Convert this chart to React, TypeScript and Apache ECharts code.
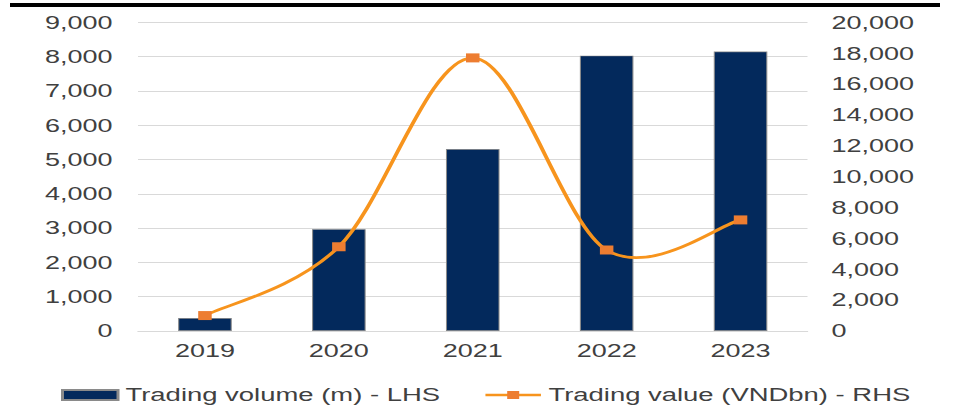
import React, { useEffect, useRef } from "react";
import * as echarts from "echarts";

const categories = ["2019", "2020", "2021", "2022", "2023"];
const tradingVolume = [380, 2970, 5310, 8030, 8150];
const tradingValue = [1000, 5460, 17700, 5250, 7200];
const volumeName = "Trading volume (m) - LHS";
const valueName = "Trading value (VNDbn) - RHS";

const SX = 1.5;
const FULL_W = 953;
const FULL_H = 412;
const W = FULL_W / SX;
const FONT = "'Liberation Sans', Arial, sans-serif";
const TEXT = "#404040";
const LINE_COLOR = "#f7941d";
const MARKER_COLOR = "#ed7d31";

export default function App() {
  const ref = useRef<HTMLDivElement>(null);
  useEffect(() => {
    if (!ref.current) return;
    const chart = echarts.init(ref.current, undefined, { renderer: "svg" });
    const fmt = (v: number) => v.toLocaleString("en-US");

    // Excel-like smoothed curve (Catmull-Rom style Bezier) through the series points,
    // computed from the chart's own scale via api.coord.
    const renderSmooth = (params: any, api: any) => {
      if (params.dataIndex !== 0) return { type: "group", children: [] };
      const pts = tradingValue.map((v, i) => api.coord([i, v]));
      const n = pts.length;
      let d = `M${pts[0][0]},${pts[0][1]}`;
      for (let i = 0; i < n - 1; i++) {
        const p0 = pts[Math.max(i - 1, 0)];
        const p1 = pts[i];
        const p2 = pts[i + 1];
        const p3 = pts[Math.min(i + 2, n - 1)];
        const c1x = p1[0] + (p2[0] - p0[0]) / 6;
        const c1y = p1[1] + (p2[1] - p0[1]) / 6;
        const c2x = p2[0] - (p3[0] - p1[0]) / 6;
        const c2y = p2[1] - (p3[1] - p1[1]) / 6;
        d += ` C${c1x},${c1y} ${c2x},${c2y} ${p2[0]},${p2[1]}`;
      }
      return {
        type: "path",
        shape: { pathData: d },
        style: { fill: "none", stroke: LINE_COLOR, lineWidth: 2.7 },
      };
    };

    chart.setOption({
      animation: false,
      backgroundColor: "#ffffff",
      textStyle: { fontFamily: FONT },
      grid: { left: 92, right: W - 808 / SX, top: 22.4, bottom: FULL_H - 331, containLabel: false },
      legend: {
        left: 61 / SX,
        top: 386,
        padding: 0,
        itemWidth: 37,
        itemHeight: 10,
        itemGap: 29,
        textStyle: { fontSize: 18.3, color: TEXT, fontFamily: FONT },
        data: [
          { name: volumeName, icon: "rect" },
          { name: valueName, lineStyle: { color: LINE_COLOR, width: 2.7, opacity: 1 } },
        ],
      },
      xAxis: {
        type: "category",
        data: categories,
        axisTick: { show: false },
        axisLine: { lineStyle: { color: "#d9d9d9", width: 1 } },
        axisLabel: { fontSize: 18, color: TEXT, margin: 11, fontFamily: FONT },
      },
      yAxis: [
        {
          type: "value",
          min: 0,
          max: 9000,
          interval: 1000,
          axisLine: { show: false },
          axisTick: { show: false },
          splitLine: { lineStyle: { color: "#d9d9d9", width: 1 } },
          axisLabel: { fontSize: 18, color: TEXT, margin: 17, formatter: fmt, fontFamily: FONT },
        },
        {
          type: "value",
          min: 0,
          max: 20000,
          interval: 2000,
          axisLine: { show: false },
          axisTick: { show: false },
          splitLine: { show: false },
          axisLabel: { fontSize: 18, color: TEXT, margin: 16, formatter: fmt, fontFamily: FONT },
        },
      ],
      series: [
        {
          name: volumeName,
          type: "bar",
          data: tradingVolume,
          barWidth: "40%",
          yAxisIndex: 0,
          itemStyle: { color: "#03295c", borderColor: "#8a8a8a", borderWidth: 0.7 },
        },
        {
          name: "smoothCurve",
          type: "custom",
          yAxisIndex: 1,
          data: tradingValue.map((v, i) => [i, v]),
          encode: { x: 0, y: 1 },
          renderItem: renderSmooth,
          silent: true,
          z: 4,
        },
        {
          name: valueName,
          type: "line",
          data: tradingValue,
          yAxisIndex: 1,
          symbol: "rect",
          symbolSize: 9,
          lineStyle: { color: LINE_COLOR, width: 2.7, opacity: 0 },
          itemStyle: { color: MARKER_COLOR },
          z: 5,
        },
      ],
      graphic: [
        { type: "rect", shape: { x: 10 / SX, y: 3, width: (940 - 10) / SX, height: 4 }, style: { fill: "#000" } },
      ],
    });
    return () => chart.dispose();
  }, []);
  return (
    <div style={{ position: "absolute", left: 0, top: 0, width: FULL_W, height: FULL_H, overflow: "hidden", background: "#fff" }}>
      <div
        ref={ref}
        style={{ width: W, height: FULL_H, transform: `scaleX(${SX})`, transformOrigin: "0 0" }}
      />
    </div>
  );
}
